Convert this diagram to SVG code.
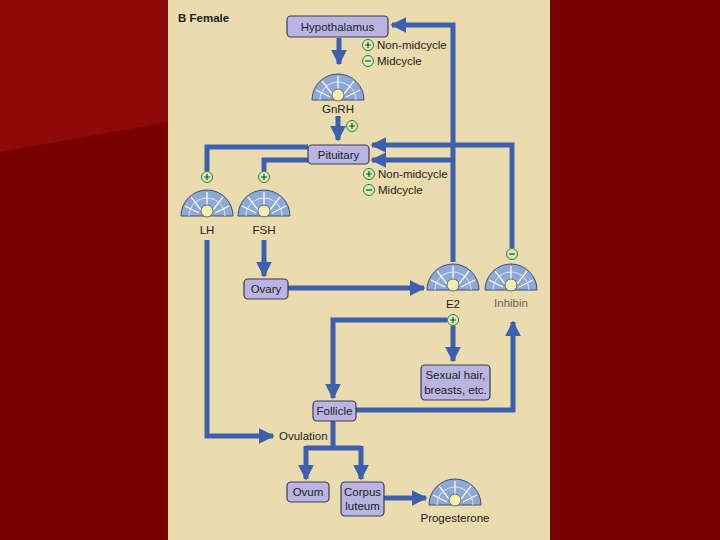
<svg xmlns="http://www.w3.org/2000/svg" width="720" height="540" viewBox="0 0 720 540">
<defs>
<style>
.ln{fill:none;stroke:#3c5fae;stroke-width:5}
.bx{fill:#b9b4e2;stroke:#3a3a4a;stroke-width:1.2}
.t{font-family:"Liberation Sans",Arial,sans-serif;font-size:11.5px;fill:#222}
.pc{fill:#d8eec0;stroke:#2e7d32;stroke-width:1}
.ps{stroke:#1b4d1b;stroke-width:1.2}
</style>
<marker id="a" viewBox="0 0 10 10" refX="9" refY="5" markerWidth="3.2" markerHeight="3.2" orient="auto" markerUnits="strokeWidth"><path d="M0,0L10,5L0,10z" fill="#3c5fae"/></marker>
<g id="cell">
<path d="M-26,0A26,26 0 0 1 26,0Z" fill="#8ea9d6" stroke="#3b4e7a" stroke-width="1"/>
<path d="M-18,0A18,18 0 0 1 18,0" fill="none" stroke="#dfe8f6" stroke-width="1"/>
<g stroke="#f4f7fc" stroke-width="1.3">
<line x1="0" y1="-8" x2="0" y2="-24"/><line x1="-6" y1="-6" x2="-16" y2="-19"/><line x1="6" y1="-6" x2="16" y2="-19"/>
<line x1="-8" y1="-3" x2="-22" y2="-10"/><line x1="8" y1="-3" x2="22" y2="-10"/>
</g>
<circle cx="0" cy="-5" r="6" fill="#f3eeb0" stroke="#555" stroke-width="0.8"/>
</g>
<g id="plus"><circle r="5.5" class="pc"/><path d="M-3,0H3M0,-3V3" class="ps"/></g>
<g id="minus"><circle r="5.5" class="pc"/><path d="M-3,0H3" class="ps"/></g>
</defs>
<rect width="720" height="540" fill="#7a0000"/>
<path d="M0,0H168V122L0,152Z" fill="#8e0a0a"/>
<rect x="168" y="0" width="382" height="540" fill="#eadcae"/>
<text x="178" y="22" class="t" font-weight="bold">B  Female</text>

<g id="connectors">
<path class="ln" d="M339,38V64" marker-end="url(#a)"/>
<path class="ln" d="M338,116V140" marker-end="url(#a)"/>
<path class="ln" d="M453,262V25H392" marker-end="url(#a)"/>
<path class="ln" d="M453,160H372" marker-end="url(#a)"/>
<path class="ln" d="M512,248V145H372" marker-end="url(#a)"/>
<path class="ln" d="M308,147H207V171"/>
<path class="ln" d="M308,160H264V171"/>
<path class="ln" d="M207,240V436H273" marker-end="url(#a)"/>
<path class="ln" d="M264,240V276" marker-end="url(#a)"/>
<path class="ln" d="M288,288H424" marker-end="url(#a)"/>
<path class="ln" d="M447,320H333V398" marker-end="url(#a)"/>
<path class="ln" d="M453,326V361" marker-end="url(#a)"/>
<path class="ln" d="M356,410H513V322" marker-end="url(#a)"/>
<path class="ln" d="M333,420V448"/>
<path class="ln" d="M306,448H361"/>
<path class="ln" d="M306,446V479" marker-end="url(#a)"/>
<path class="ln" d="M361,446V479" marker-end="url(#a)"/>
<path class="ln" d="M384,498H426" marker-end="url(#a)"/>
</g>

<g id="hypothalamus"><rect class="bx" x="287" y="16" width="101" height="21" rx="4"/><text class="t" x="337.5" y="30.5" text-anchor="middle">Hypothalamus</text></g>
<g id="hypo-labels"><use href="#plus" x="368" y="45"/><text class="t" x="377" y="49">Non-midcycle</text><use href="#minus" x="368" y="61"/><text class="t" x="377" y="65">Midcycle</text></g>
<g id="gnrh"><use href="#cell" x="338" y="100"/><text class="t" x="338" y="113" text-anchor="middle">GnRH</text><use href="#plus" x="352" y="126"/></g>
<g id="pituitary"><rect class="bx" x="308" y="145" width="61" height="19" rx="4"/><text class="t" x="338.5" y="158.5" text-anchor="middle">Pituitary</text></g>
<g id="pit-labels"><use href="#plus" x="369" y="174"/><text class="t" x="378" y="178">Non-midcycle</text><use href="#minus" x="369" y="190"/><text class="t" x="378" y="194">Midcycle</text></g>
<g id="lh"><use href="#plus" x="207" y="177"/><use href="#cell" x="207" y="216"/><text class="t" x="207" y="234" text-anchor="middle">LH</text></g>
<g id="fsh"><use href="#plus" x="264" y="177"/><use href="#cell" x="264" y="216"/><text class="t" x="264" y="234" text-anchor="middle">FSH</text></g>
<g id="ovary"><rect class="bx" x="244" y="279" width="44" height="20" rx="4"/><text class="t" x="266" y="293" text-anchor="middle">Ovary</text></g>
<g id="e2"><use href="#cell" x="453" y="290"/><text class="t" x="453" y="308" text-anchor="middle">E2</text><use href="#plus" x="453" y="320"/></g>
<g id="inhibin"><use href="#minus" x="512" y="254"/><use href="#cell" x="511" y="290"/><text class="t" x="511" y="307" text-anchor="middle" style="fill:#666">Inhibin</text></g>
<g id="sexual"><rect class="bx" x="421" y="365" width="69" height="35" rx="4"/><text class="t" x="455.5" y="379" text-anchor="middle">Sexual hair,</text><text class="t" x="455.5" y="394" text-anchor="middle">breasts, etc.</text></g>
<g id="follicle"><rect class="bx" x="313" y="401" width="43" height="20" rx="4"/><text class="t" x="334.5" y="415" text-anchor="middle">Follicle</text></g>
<g id="ovulation"><text class="t" x="279" y="440">Ovulation</text></g>
<g id="ovum"><rect class="bx" x="287" y="482" width="42" height="20" rx="4"/><text class="t" x="308" y="496" text-anchor="middle">Ovum</text></g>
<g id="corpus"><rect class="bx" x="341" y="482" width="43" height="34" rx="4"/><text class="t" x="362.5" y="496" text-anchor="middle">Corpus</text><text class="t" x="362.5" y="510" text-anchor="middle">luteum</text></g>
<g id="progesterone"><use href="#cell" x="455" y="505"/><text class="t" x="455" y="522" text-anchor="middle">Progesterone</text></g>
</svg>
